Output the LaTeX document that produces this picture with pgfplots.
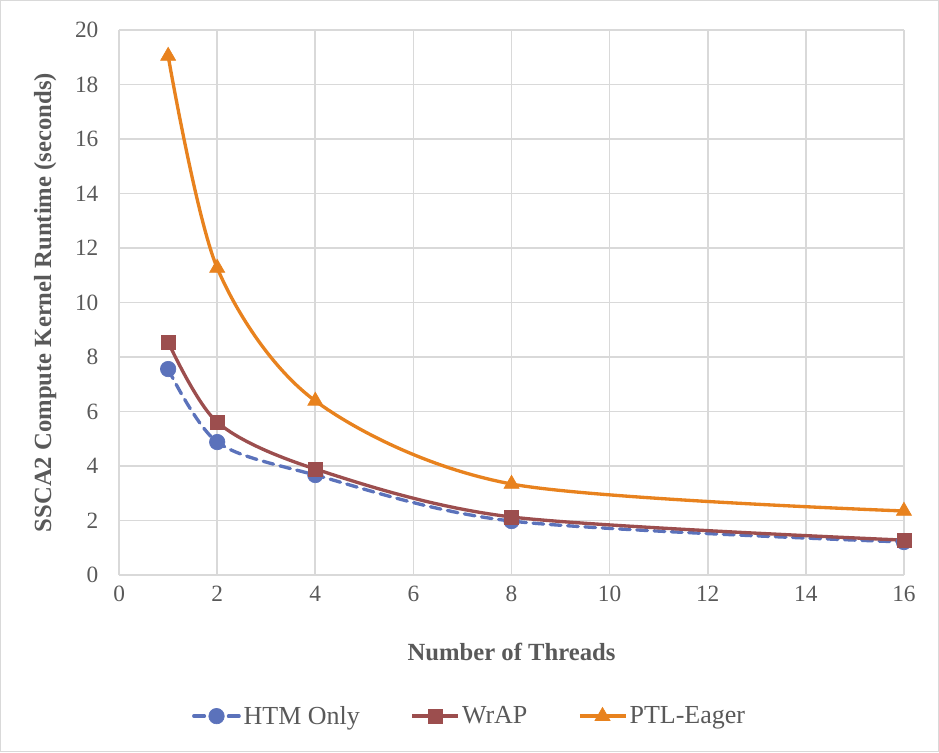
\documentclass[border=0pt]{standalone}
\usepackage{fontspec}
\setmainfont{Liberation Serif}
\usepackage{pgfplots}
\pgfplotsset{compat=1.18}
\definecolor{cHTM}{HTML}{5B72BB}
\definecolor{cWrAP}{HTML}{9C4E4E}
\definecolor{cPTL}{HTML}{E8821E}
\definecolor{cGrid}{HTML}{D9D9D9}
\definecolor{cText}{HTML}{595959}
\begin{document}
\begin{tikzpicture}
\begin{axis}[
  at={(0,0)}, anchor=south west,
  scale only axis,
  width=588.75pt, height=408.75pt,
  xmin=0, xmax=16, ymin=0, ymax=20,
  xtick={0,2,...,16}, ytick={0,2,...,20},
  grid=major,
  major grid style={draw=cGrid, line width=1.3pt},
  axis line style={draw=none},
  major tick length=0pt,
  /pgf/number format/assume math mode=true,
  ticklabel style={font=\fontsize{17.5}{20}\selectfont, text=cText},
  xticklabel style={yshift=-5pt},
  yticklabel style={xshift=-12pt},
  xlabel={\textbf{Number of Threads}},
  ylabel={\textbf{SSCA2 Compute Kernel Runtime (seconds)}},
  label style={font=\fontsize{18.5}{21}\selectfont, text=cText},
  xlabel style={at={(axis description cs:0.5,0)}, anchor=center, yshift=-57.5pt},
  ylabel style={at={(axis description cs:0,0.5)}, anchor=center, yshift=55.5pt},
  legend columns=-1,
  legend style={at={(rel axis cs:0.447,-0.259)}, anchor=center, draw=none, fill=none,
    font=\fontsize{19.5}{22}\selectfont, text=cText,
    /tikz/every even column/.append style={column sep=36pt}},
  legend cell align=left,
  legend image code/.code={\draw[mark repeat=2,mark phase=2] plot coordinates {(0cm,0cm)(0.6cm,0cm)(1.2cm,0cm)};},
]
\addplot[smooth, color=cHTM, line width=2.5pt, dash pattern=on 8pt off 5pt, line cap=round,
  mark=*, mark size=5.8pt, mark options={solid, fill=cHTM, draw=cHTM, line width=0.5pt}]
  coordinates {(1,7.56) (2,4.88) (4,3.67) (8,1.98) (16,1.21)};
\addlegendentry{HTM Only}
\addplot[smooth, color=cWrAP, line width=2.5pt,
  mark=square*, mark size=5.3pt, mark options={solid, fill=cWrAP, draw=cWrAP, line width=0.5pt}]
  coordinates {(1,8.55) (2,5.61) (4,3.89) (8,2.13) (16,1.28)};
\addlegendentry{WrAP}
\addplot[smooth, color=cPTL, line width=2.5pt,
  mark=triangle*, mark size=6.5pt, mark options={solid, fill=cPTL, draw=cPTL, line width=0.5pt}]
  coordinates {(1,19.05) (2,11.27) (4,6.39) (8,3.34) (16,2.35)};
\addlegendentry{PTL-Eager}
\end{axis}
\draw[cGrid, line width=0.9pt] (-88.9pt,-132.4pt) rectangle (614.6pt,430.9pt);
\end{tikzpicture}
\end{document}
